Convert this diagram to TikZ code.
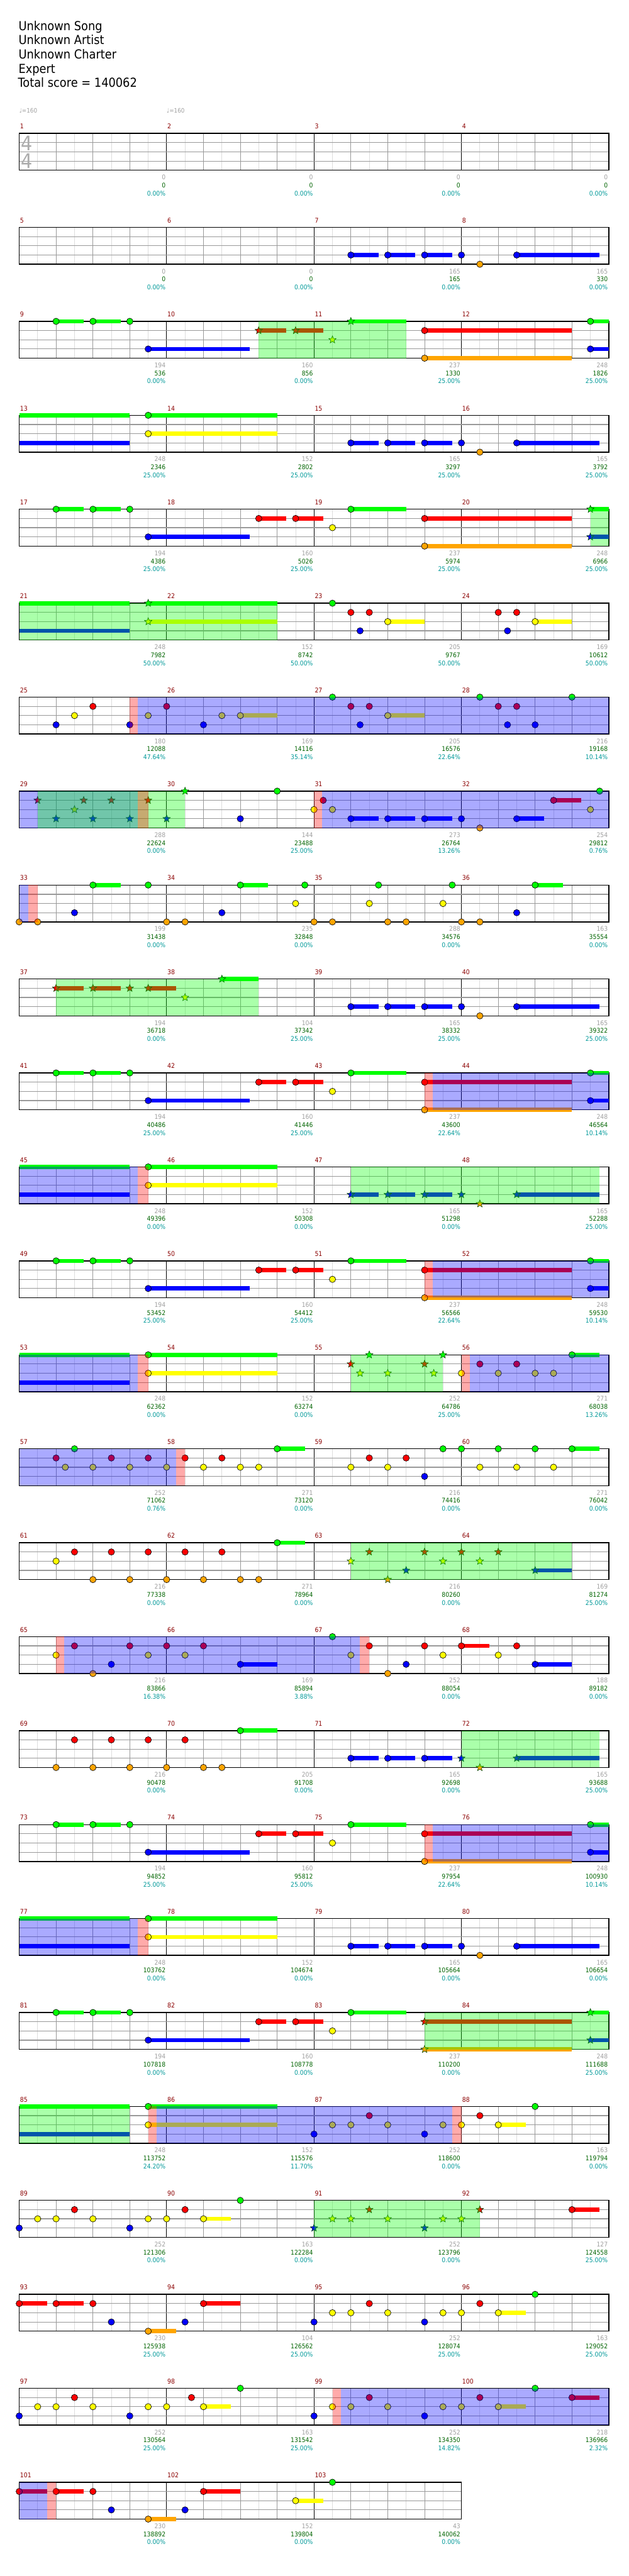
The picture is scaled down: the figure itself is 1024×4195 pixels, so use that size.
\documentclass[tikz,border=0pt]{standalone}
\usepackage{fontspec}
\setmainfont[FakeStretch=0.9]{DejaVu Sans}
\usetikzlibrary{shapes.geometric}
\definecolor{lane0}{HTML}{00FF00}
\definecolor{lane1}{HTML}{FF0000}
\definecolor{lane2}{HTML}{FFFF00}
\definecolor{lane3}{HTML}{0000FF}
\definecolor{lane4}{HTML}{FFA500}
\definecolor{mred}{HTML}{8B0000}
\definecolor{lgray}{HTML}{A0A0A0}
\definecolor{lgreen}{HTML}{006400}
\definecolor{lteal}{HTML}{009999}
\definecolor{gridq}{HTML}{999999}
\definecolor{gridl}{HTML}{DDDDDD}
\newcommand\qS[3]{\fill[lane#3] (#1,{#3-0.23}) rectangle (#2,{#3+0.23});}
\newcommand\qN[2]{\filldraw[fill=lane#2,draw=black,line width=0.5pt] (#1,#2) circle[radius=3.9pt];}
\newcommand\qNS[3]{\qS{#1}{#3}{#2}\qN{#1}{#2}}
\newcommand\qT[2]{\node[starnote,fill=lane#2] at (#1,#2) {};}
\newcommand\qTS[3]{\qS{#1}{#3}{#2}\qT{#1}{#2}}
\newcommand\qOD[2]{\fill[lane3,fill opacity=0.333] (#1,0) rectangle (#2,4);}
\newcommand\qSP[2]{\fill[lane0,fill opacity=0.333] (#1,0) rectangle (#2,4);}
\newcommand\qAC[2]{\fill[lane1,fill opacity=0.333] (#1,0) rectangle (#2,4);}
\newcommand\qGrid[1]{%
 \pgfmathtruncatemacro\qW{16*#1}%
 \foreach \i in {2,6,...,\qW}{\draw[gl] (\i,0)--(\i,4);}%
 \foreach \i in {4,8,...,\qW}{\draw[gq] (\i,0)--(\i,4);}%
 \foreach \i in {16,32,...,\qW}{\draw[gm] (\i,0)--(\i,4);}%
 \foreach \l in {1,2,3}{\draw[gh] (0,\l)--(\qW,\l);}%
 \draw[gb] (0,0) rectangle (\qW,4);}
\newcommand\qMs[2]{\foreach \c [evaluate=\c as \mn using int(#1+\c)] in {0,...,#2}{\node[mnum] at ({16*\c+0.07},-0.5) {\mn};}}
\newcommand\qL[4]{%
 \node[lab,text=lgray] at ({16*#1+15.9},5.02) {#2};%
 \node[lab,text=lgreen] at ({16*#1+15.9},5.89) {#3};%
 \node[lab,text=lteal] at ({16*#1+15.9},6.76) {#4\%};}
\newcommand\qPatA{\qNS{4}{0}{7}\qNS{8}{0}{11}\qN{12}{0}\qNS{14}{3}{25}\qNS{26}{1}{29}\qNS{30}{1}{33}\qN{34}{2}\qNS{36}{0}{42}}
\newcommand\qPatB{\qS{0}{12}{0}\qS{0}{12}{3}\qNS{14}{0}{28}\qNS{14}{2}{28}}
\newcommand\qPatC{\qNS{36}{3}{39}\qNS{40}{3}{43}\qNS{44}{3}{47}\qN{48}{3}\qNS{54}{3}{63}\qN{50}{4}}
\begin{document}
\begin{tikzpicture}[x=0.75pt,y=-0.75pt,
  rowsc/.style={shift={(31.3,{217.3+153*(#1-1)})},x=11.25pt,y=-11.25pt},
  gl/.style={draw=gridl,line width=0.6pt},
  gq/.style={draw=gridq,line width=0.75pt},
  gm/.style={draw=black,line width=0.7pt},
  gh/.style={draw=gridq,line width=0.9pt},
  gb/.style={draw=black,line width=1.1pt},
  starnote/.style={star,star points=5,star point ratio=2.3,minimum size=9.5pt,inner sep=0pt,draw=black!75!green,line width=0.45pt},
  mnum/.style={anchor=base west,inner sep=0pt,text=mred,font=\fontsize{8pt}{9pt}\selectfont},
  lab/.style={anchor=base east,inner sep=0pt,font=\fontsize{7.9pt}{9pt}\selectfont},
  hdr/.style={anchor=base west,inner sep=0pt,font=\fontsize{15.2pt}{18pt}\selectfont}]
\useasboundingbox (0,0) rectangle (1024,4195);
\fill[white] (0,0) rectangle (1024,4195);
\node[hdr] (song) at (30,50) {Unknown Song};
\node[hdr] (artist) at (30,72.7) {Unknown Artist};
\node[hdr] (charter) at (30,96) {Unknown Charter};
\node[hdr] (diff) at (30,119) {Expert};
\node[hdr] (total) at (29,141.7) {Total score = 140062};
% Row 1
\begin{scope}[rowsc=1]
\qGrid{4}\qMs{1}{3}
\node[anchor=center,text=gray!65,font=\fontsize{24.5pt}{26pt}\selectfont] (ts1) at (0.85,1.05) {4};
\node[anchor=center,text=gray!65,font=\fontsize{24.5pt}{26pt}\selectfont] (ts2) at (0.85,2.98) {4};
\node[anchor=base west,inner sep=0pt,text=lgray,font=\fontsize{7.5pt}{9pt}\selectfont] (tp1) at (0,-2.2) {♩=160};
\node[anchor=base west,inner sep=0pt,text=lgray,font=\fontsize{7.5pt}{9pt}\selectfont] (tp2) at (16,-2.2) {♩=160};
\qL{0}{0}{0}{0.00}\qL{1}{0}{0}{0.00}\qL{2}{0}{0}{0.00}\qL{3}{0}{0}{0.00}
\end{scope}
% Row 2
\begin{scope}[rowsc=2]
\qGrid{4}\qMs{5}{3}
\qPatC
\qL{0}{0}{0}{0.00}\qL{1}{0}{0}{0.00}\qL{2}{165}{165}{0.00}\qL{3}{165}{330}{0.00}
\end{scope}
% Row 3
\begin{scope}[rowsc=3]
\qGrid{4}\qMs{9}{3}
\qNS{4}{0}{7}\qNS{8}{0}{11}\qN{12}{0}\qNS{14}{3}{25}
\qTS{26}{1}{29}\qTS{30}{1}{33}\qT{34}{2}\qTS{36}{0}{42}
\qNS{44}{1}{60}\qNS{44}{4}{60}\qNS{62}{0}{64}\qNS{62}{3}{64}
\qSP{26}{42}
\qL{0}{194}{536}{0.00}\qL{1}{160}{856}{0.00}\qL{2}{237}{1330}{25.00}\qL{3}{248}{1826}{25.00}
\end{scope}
% Row 4
\begin{scope}[rowsc=4]
\qGrid{4}\qMs{13}{3}
\qPatB\qPatC
\qL{0}{248}{2346}{25.00}\qL{1}{152}{2802}{25.00}\qL{2}{165}{3297}{25.00}\qL{3}{165}{3792}{25.00}
\end{scope}
% Row 5
\begin{scope}[rowsc=5]
\qGrid{4}\qMs{17}{3}
\qPatA\qNS{44}{1}{60}\qNS{44}{4}{60}\qTS{62}{0}{64}\qTS{62}{3}{64}\qSP{62}{64}
\qL{0}{194}{4386}{25.00}\qL{1}{160}{5026}{25.00}\qL{2}{237}{5974}{25.00}\qL{3}{248}{6966}{25.00}
\end{scope}
% Row 6
\begin{scope}[rowsc=6]
\qGrid{4}\qMs{21}{3}
\qS{0}{12}{0}\qS{0}{12}{3}\qTS{14}{0}{28}\qTS{14}{2}{28}\qSP{0}{28}
\qN{34}{0}\qN{36}{1}\qN{38}{1}\qN{37}{3}\qNS{40}{2}{44}
\qN{52}{1}\qN{54}{1}\qN{53}{3}\qNS{56}{2}{60}
\qL{0}{248}{7982}{50.00}\qL{1}{152}{8742}{50.00}\qL{2}{205}{9767}{50.00}\qL{3}{169}{10612}{50.00}
\end{scope}
% Row 7
\begin{scope}[rowsc=7]
\qGrid{4}\qMs{25}{3}
\qN{4}{3}\qN{6}{2}\qN{8}{1}\qN{12}{3}\qN{14}{2}\qN{16}{1}\qN{20}{3}\qN{22}{2}\qNS{24}{2}{28}
\qN{34}{0}\qN{36}{1}\qN{38}{1}\qN{37}{3}\qNS{40}{2}{44}
\qN{50}{0}\qN{60}{0}\qN{52}{1}\qN{54}{1}\qN{53}{3}\qN{56}{3}
\qAC{12}{12.9}\qOD{12.9}{64}
\qL{0}{180}{12088}{47.64}\qL{1}{169}{14116}{35.14}\qL{2}{205}{16576}{22.64}\qL{3}{216}{19168}{10.14}
\end{scope}
% Row 8
\begin{scope}[rowsc=8]
\qGrid{4}\qMs{29}{3}
\qT{2}{1}\qT{7}{1}\qT{10}{1}\qT{14}{1}\qT{6}{2}\qT{4}{3}\qT{8}{3}\qT{12}{3}\qT{16}{3}\qT{18}{0}
\qN{28}{0}\qN{24}{3}\qN{32}{2}\qN{33}{1}\qN{34}{2}
\qNS{36}{3}{39}\qNS{40}{3}{43}\qNS{44}{3}{47}\qN{48}{3}\qNS{54}{3}{57}\qN{50}{4}
\qNS{58}{1}{61}\qN{62}{2}\qN{63}{0}
\qOD{0}{12.9}\qSP{2}{18}\qAC{12.9}{14}\qAC{32}{32.9}\qOD{32.9}{64}
\qL{0}{288}{22624}{0.00}\qL{1}{144}{23488}{25.00}\qL{2}{273}{26764}{13.26}\qL{3}{254}{29812}{0.76}
\end{scope}
% Row 9
\begin{scope}[rowsc=9]
\qGrid{4}\qMs{33}{3}
\qN{0}{4}\qN{2}{4}\qN{6}{3}\qNS{8}{0}{11}\qN{14}{0}\qN{16}{4}\qN{18}{4}\qN{22}{3}\qNS{24}{0}{27}
\qN{30}{2}\qN{31}{0}\qN{32}{4}\qN{34}{4}\qN{38}{2}\qN{39}{0}\qN{40}{4}\qN{42}{4}
\qN{46}{2}\qN{47}{0}\qN{48}{4}\qN{50}{4}\qN{54}{3}\qNS{56}{0}{59}
\qOD{0}{1}\qAC{1}{2}
\qL{0}{199}{31438}{0.00}\qL{1}{235}{32848}{0.00}\qL{2}{288}{34576}{0.00}\qL{3}{163}{35554}{0.00}
\end{scope}
% Row 10
\begin{scope}[rowsc=10]
\qGrid{4}\qMs{37}{3}
\qTS{4}{1}{7}\qTS{8}{1}{11}\qT{12}{1}\qTS{14}{1}{17}\qT{18}{2}\qTS{22}{0}{26}\qSP{4}{26}
\qPatC
\qL{0}{194}{36718}{0.00}\qL{1}{104}{37342}{25.00}\qL{2}{165}{38332}{25.00}\qL{3}{165}{39322}{25.00}
\end{scope}
% Row 11
\begin{scope}[rowsc=11]
\qGrid{4}\qMs{41}{3}
\qPatA\qNS{44}{1}{60}\qNS{44}{4}{60}\qNS{62}{0}{64}\qNS{62}{3}{64}\qAC{44}{44.9}\qOD{44.9}{64}
\qL{0}{194}{40486}{25.00}\qL{1}{160}{41446}{25.00}\qL{2}{237}{43600}{22.64}\qL{3}{248}{46564}{10.14}
\end{scope}
% Row 12
\begin{scope}[rowsc=12]
\qGrid{4}\qMs{45}{3}
\qPatB\qOD{0}{12.9}\qAC{12.9}{14}
\qTS{36}{3}{39}\qTS{40}{3}{43}\qTS{44}{3}{47}\qT{48}{3}\qTS{54}{3}{63}\qT{50}{4}\qSP{36}{63}
\qL{0}{248}{49396}{0.00}\qL{1}{152}{50308}{0.00}\qL{2}{165}{51298}{0.00}\qL{3}{165}{52288}{25.00}
\end{scope}
% Row 13
\begin{scope}[rowsc=13]
\qGrid{4}\qMs{49}{3}
\qPatA\qNS{44}{1}{60}\qNS{44}{4}{60}\qNS{62}{0}{64}\qNS{62}{3}{64}\qAC{44}{44.9}\qOD{44.9}{64}
\qL{0}{194}{53452}{25.00}\qL{1}{160}{54412}{25.00}\qL{2}{237}{56566}{22.64}\qL{3}{248}{59530}{10.14}
\end{scope}
% Row 14
\begin{scope}[rowsc=14]
\qGrid{4}\qMs{53}{3}
\qPatB\qOD{0}{12.9}\qAC{12.9}{14}
\qT{36}{1}\qT{44}{1}\qT{38}{0}\qT{46}{0}\qT{37}{2}\qT{40}{2}\qT{45}{2}\qSP{36}{46}
\qN{48}{2}\qN{50}{1}\qN{54}{1}\qN{52}{2}\qN{56}{2}\qN{58}{2}\qNS{60}{0}{63}
\qAC{48}{48.9}\qOD{48.9}{64}
\qL{0}{248}{62362}{0.00}\qL{1}{152}{63274}{0.00}\qL{2}{252}{64786}{25.00}\qL{3}{271}{68038}{13.26}
\end{scope}
% Row 15
\begin{scope}[rowsc=15]
\qGrid{4}\qMs{57}{3}
\qN{6}{0}\qN{4}{1}\qN{10}{1}\qN{14}{1}\qN{18}{1}\qN{22}{1}\qN{5}{2}\qN{8}{2}\qN{12}{2}\qN{16}{2}\qN{20}{2}\qN{24}{2}\qN{26}{2}\qNS{28}{0}{31}
\qN{36}{2}\qN{40}{2}\qN{38}{1}\qN{42}{1}\qN{44}{3}\qN{46}{0}\qN{48}{0}\qN{52}{0}\qN{56}{0}\qNS{60}{0}{63}\qN{50}{2}\qN{54}{2}\qN{58}{2}
\qOD{0}{17}\qAC{17}{18}
\qL{0}{252}{71062}{0.76}\qL{1}{271}{73120}{0.00}\qL{2}{216}{74416}{0.00}\qL{3}{271}{76042}{0.00}
\end{scope}
% Row 16
\begin{scope}[rowsc=16]
\qGrid{4}\qMs{61}{3}
\qN{4}{2}\qN{6}{1}\qN{10}{1}\qN{14}{1}\qN{18}{1}\qN{22}{1}\qN{8}{4}\qN{12}{4}\qN{16}{4}\qN{20}{4}\qN{24}{4}\qN{26}{4}\qNS{28}{0}{31}
\qT{36}{2}\qT{46}{2}\qT{50}{2}\qT{38}{1}\qT{44}{1}\qT{48}{1}\qT{52}{1}\qT{40}{4}\qT{42}{3}\qTS{56}{3}{60}\qSP{36}{60}
\qL{0}{216}{77338}{0.00}\qL{1}{271}{78964}{0.00}\qL{2}{216}{80260}{0.00}\qL{3}{169}{81274}{25.00}
\end{scope}
% Row 17
\begin{scope}[rowsc=17]
\qGrid{4}\qMs{65}{3}
\qN{4}{2}\qN{6}{1}\qN{12}{1}\qN{16}{1}\qN{20}{1}\qN{8}{4}\qN{10}{3}\qN{14}{2}\qN{18}{2}\qNS{24}{3}{28}\qN{34}{0}\qN{36}{2}
\qN{38}{1}\qN{44}{1}\qNS{48}{1}{51}\qN{54}{1}\qN{40}{4}\qN{42}{3}\qNS{56}{3}{60}\qN{46}{2}\qN{52}{2}
\qAC{4}{4.9}\qOD{4.9}{37}\qAC{37}{38}
\qL{0}{216}{83866}{16.38}\qL{1}{169}{85894}{3.88}\qL{2}{252}{88054}{0.00}\qL{3}{188}{89182}{0.00}
\end{scope}
% Row 18
\begin{scope}[rowsc=18]
\qGrid{4}\qMs{69}{3}
\qN{6}{1}\qN{10}{1}\qN{14}{1}\qN{18}{1}\qN{4}{4}\qN{8}{4}\qN{12}{4}\qN{16}{4}\qN{20}{4}\qN{22}{4}\qNS{24}{0}{28}
\qNS{36}{3}{39}\qNS{40}{3}{43}\qNS{44}{3}{47}\qT{48}{3}\qTS{54}{3}{63}\qT{50}{4}\qSP{48}{63}
\qL{0}{216}{90478}{0.00}\qL{1}{205}{91708}{0.00}\qL{2}{165}{92698}{0.00}\qL{3}{165}{93688}{25.00}
\end{scope}
% Row 19
\begin{scope}[rowsc=19]
\qGrid{4}\qMs{73}{3}
\qPatA\qNS{44}{1}{60}\qNS{44}{4}{60}\qNS{62}{0}{64}\qNS{62}{3}{64}\qAC{44}{44.9}\qOD{44.9}{64}
\qL{0}{194}{94852}{25.00}\qL{1}{160}{95812}{25.00}\qL{2}{237}{97954}{22.64}\qL{3}{248}{100930}{10.14}
\end{scope}
% Row 20
\begin{scope}[rowsc=20]
\qGrid{4}\qMs{77}{3}
\qPatB\qOD{0}{12.9}\qAC{12.9}{14}\qPatC
\qL{0}{248}{103762}{0.00}\qL{1}{152}{104674}{0.00}\qL{2}{165}{105664}{0.00}\qL{3}{165}{106654}{0.00}
\end{scope}
% Row 21
\begin{scope}[rowsc=21]
\qGrid{4}\qMs{81}{3}
\qPatA\qTS{44}{1}{60}\qTS{44}{4}{60}\qTS{62}{0}{64}\qTS{62}{3}{64}\qSP{44}{64}
\qL{0}{194}{107818}{0.00}\qL{1}{160}{108778}{0.00}\qL{2}{237}{110200}{0.00}\qL{3}{248}{111688}{25.00}
\end{scope}
% Row 22
\begin{scope}[rowsc=22]
\qGrid{4}\qMs{85}{3}
\qS{0}{12}{0}\qS{0}{12}{3}\qSP{0}{12}
\qNS{14}{0}{28}\qNS{14}{2}{28}
\qN{32}{3}\qN{34}{2}\qN{36}{2}\qN{40}{2}\qN{46}{2}\qN{38}{1}\qN{44}{3}
\qN{48}{2}\qN{50}{1}\qNS{52}{2}{55}\qN{56}{0}
\qAC{14}{14.9}\qOD{14.9}{47}\qAC{47}{48}
\qL{0}{248}{113752}{24.20}\qL{1}{152}{115576}{11.70}\qL{2}{252}{118600}{0.00}\qL{3}{163}{119794}{0.00}
\end{scope}
% Row 23
\begin{scope}[rowsc=23]
\qGrid{4}\qMs{89}{3}
\qN{0}{3}\qN{12}{3}\qN{2}{2}\qN{4}{2}\qN{8}{2}\qN{14}{2}\qN{16}{2}\qNS{20}{2}{23}\qN{6}{1}\qN{18}{1}\qN{24}{0}
\qT{32}{3}\qT{44}{3}\qT{34}{2}\qT{36}{2}\qT{40}{2}\qT{46}{2}\qT{48}{2}\qT{38}{1}\qT{50}{1}\qSP{32}{50}
\qNS{60}{1}{63}
\qL{0}{252}{121306}{0.00}\qL{1}{163}{122284}{0.00}\qL{2}{252}{123796}{0.00}\qL{3}{127}{124558}{25.00}
\end{scope}
% Row 24
\begin{scope}[rowsc=24]
\qGrid{4}\qMs{93}{3}
\qNS{0}{1}{3}\qNS{4}{1}{7}\qN{8}{1}\qNS{20}{1}{24}\qN{10}{3}\qN{18}{3}\qNS{14}{4}{17}
\qN{32}{3}\qN{44}{3}\qN{34}{2}\qN{36}{2}\qN{40}{2}\qN{46}{2}\qN{48}{2}\qNS{52}{2}{55}\qN{38}{1}\qN{50}{1}\qN{56}{0}
\qL{0}{230}{125938}{25.00}\qL{1}{104}{126562}{25.00}\qL{2}{252}{128074}{25.00}\qL{3}{163}{129052}{25.00}
\end{scope}
% Row 25
\begin{scope}[rowsc=25]
\qGrid{4}\qMs{97}{3}
\qN{0}{3}\qN{12}{3}\qN{2}{2}\qN{4}{2}\qN{8}{2}\qN{14}{2}\qN{16}{2}\qNS{20}{2}{23}\qN{6}{1}\qN{18.7}{1}\qN{24}{0}
\qN{32}{3}\qN{34}{2}\qN{36}{2}\qN{40}{2}\qN{46}{2}\qN{48}{2}\qNS{52}{2}{55}\qN{38}{1}\qN{50}{1}\qNS{60}{1}{63}\qN{44}{3}\qN{56}{0}
\qAC{34}{34.9}\qOD{34.9}{64}
\qL{0}{252}{130564}{25.00}\qL{1}{163}{131542}{25.00}\qL{2}{252}{134350}{14.82}\qL{3}{218}{136966}{2.32}
\end{scope}
% Row 26
\begin{scope}[rowsc=26]
\qGrid{3}\qMs{101}{2}
\qNS{0}{1}{3}\qNS{4}{1}{7}\qN{8}{1}\qNS{20}{1}{24}\qN{10}{3}\qN{18}{3}\qNS{14}{4}{17}\qNS{30}{2}{33}\qN{34}{0}
\qOD{0}{3}\qAC{3}{4}
\qL{0}{230}{138892}{0.00}\qL{1}{152}{139804}{0.00}\qL{2}{43}{140062}{0.00}
\end{scope}
\end{tikzpicture}
\end{document}
